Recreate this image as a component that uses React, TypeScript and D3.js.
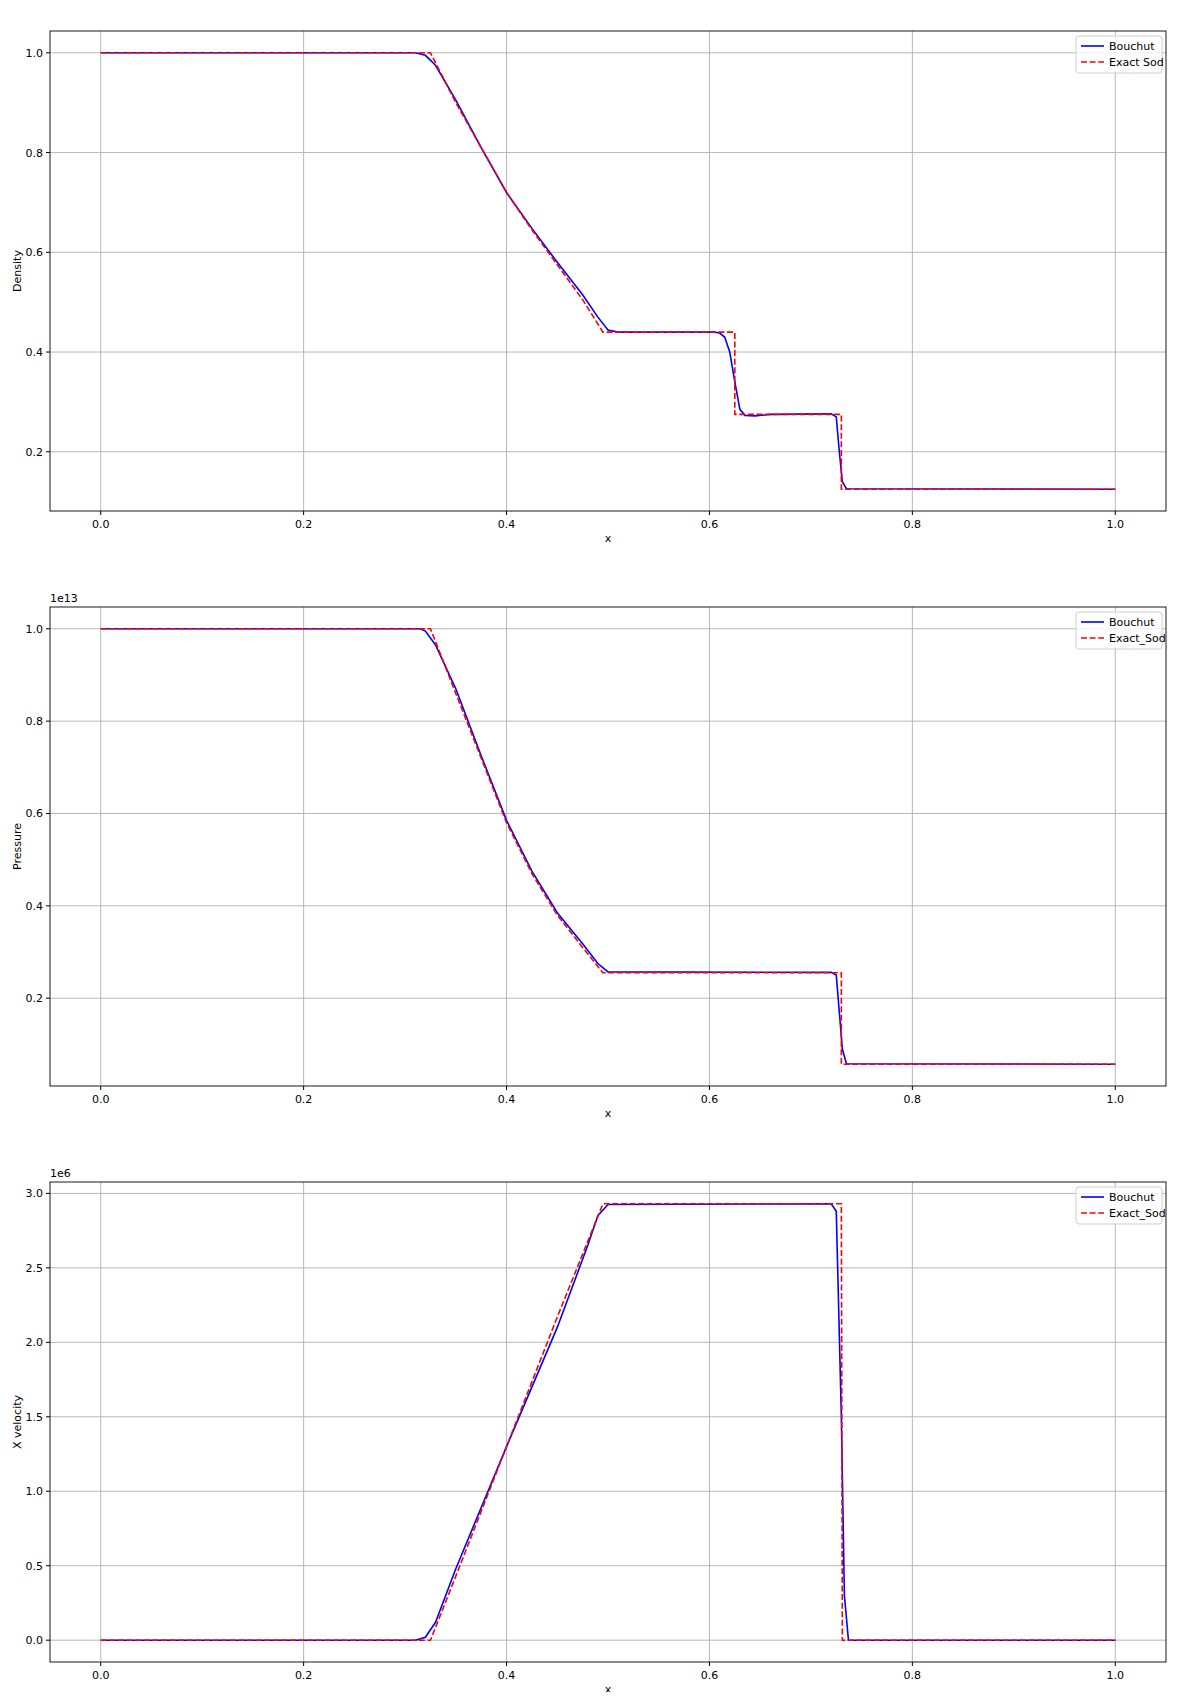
import * as d3 from 'd3'

// x positions shared by exact Sod solution
const exactX = [0, 0.325, 0.35, 0.375, 0.4, 0.425, 0.45, 0.475, 0.495, 0.625, 0.625, 0.73, 0.73, 1.0]
const exactDensity = [1, 1, 0.9, 0.81, 0.72, 0.645, 0.575, 0.505, 0.44, 0.44, 0.275, 0.275, 0.125, 0.125]

const bouchutDensityX = [0, 0.31, 0.32, 0.33, 0.35, 0.375, 0.4, 0.425, 0.45, 0.475, 0.49, 0.5, 0.51, 0.605, 0.61, 0.615, 0.62, 0.625, 0.63, 0.635, 0.645, 0.66, 0.72, 0.725, 0.728, 0.731, 0.735, 1.0]
const bouchutDensity = [1, 1, 0.995, 0.975, 0.905, 0.81, 0.72, 0.648, 0.58, 0.515, 0.47, 0.444, 0.44, 0.44, 0.438, 0.43, 0.40, 0.34, 0.285, 0.273, 0.272, 0.275, 0.276, 0.27, 0.2, 0.14, 0.126, 0.125]

const exactPressureX = [0, 0.325, 0.35, 0.375, 0.4, 0.425, 0.45, 0.475, 0.495, 0.73, 0.73, 1.0]
const exactPressure = [1, 1, 0.86, 0.72, 0.58, 0.47, 0.38, 0.31, 0.255, 0.255, 0.057, 0.057]

const bouchutPressureX = [0, 0.315, 0.32, 0.33, 0.35, 0.375, 0.4, 0.425, 0.45, 0.475, 0.49, 0.5, 0.72, 0.725, 0.728, 0.731, 0.735, 1.0]
const bouchutPressure = [1, 1, 0.995, 0.965, 0.87, 0.725, 0.585, 0.475, 0.385, 0.318, 0.275, 0.257, 0.256, 0.25, 0.17, 0.09, 0.058, 0.057]

const exactVelocityX = [0, 0.325, 0.35, 0.4, 0.45, 0.495, 0.73, 0.731, 1.0]
const exactVelocity = [0, 0, 0.43, 1.3, 2.17, 2.93, 2.93, 0, 0]

const bouchutVelocityX = [0, 0.31, 0.32, 0.33, 0.35, 0.4, 0.45, 0.48, 0.49, 0.5, 0.72, 0.725, 0.73, 0.733, 0.737, 1.0]
const bouchutVelocity = [0, 0, 0.02, 0.12, 0.48, 1.3, 2.1, 2.65, 2.85, 2.925, 2.93, 2.88, 1.5, 0.3, 0, 0]

const xTicks = [0, 0.2, 0.4, 0.6, 0.8, 1.0]

const panels = [
  { ylabel: 'Density', exp: '', exactName: 'Exact Sod', ex: exactX, ey: exactDensity, bx: bouchutDensityX, by: bouchutDensity, yTicks: [0.2, 0.4, 0.6, 0.8, 1.0], top: 31, bottom: 511 },
  { ylabel: 'Pressure', exp: '1e13', exactName: 'Exact_Sod', ex: exactPressureX, ey: exactPressure, bx: bouchutPressureX, by: bouchutPressure, yTicks: [0.2, 0.4, 0.6, 0.8, 1.0], top: 607, bottom: 1086 },
  { ylabel: 'X velocity', exp: '1e6', exactName: 'Exact_Sod', ex: exactVelocityX, ey: exactVelocity, bx: bouchutVelocityX, by: bouchutVelocity, yTicks: [0, 0.5, 1, 1.5, 2, 2.5, 3], top: 1182, bottom: 1662 },
]

const left = 50
const right = 1166
const font = 'DejaVu Sans, sans-serif'

function Panel({ p }: { p: typeof panels[number] }) {
  const x = d3.scaleLinear().domain([-0.05, 1.05]).range([left, right])
  const all = [...p.ey, ...p.by]
  const lo = d3.min(all)!, hi = d3.max(all)!
  const m = (hi - lo) * 0.05
  const y = d3.scaleLinear().domain([lo - m, hi + m]).range([p.bottom, p.top])
  const line = (xs: number[], ys: number[]) =>
    d3.line<number>().x((_, i) => x(xs[i])).y(d => y(d))(ys) || ''
  const clipId = `clip-${p.ylabel.replace(' ', '')}`
  return (
    <g fontFamily={font} fontSize={11} fill="#000">
      <defs>
        <clipPath id={clipId}><rect x={left} y={p.top} width={right - left} height={p.bottom - p.top} /></clipPath>
      </defs>
      {xTicks.map(t => (
        <g key={'x' + t}>
          <line x1={x(t)} x2={x(t)} y1={p.top} y2={p.bottom} stroke="#b0b0b0" strokeWidth={0.9} />
          <line x1={x(t)} x2={x(t)} y1={p.bottom} y2={p.bottom + 4} stroke="#000" />
          <text x={x(t)} y={p.bottom + 17} textAnchor="middle">{t.toFixed(1)}</text>
        </g>
      ))}
      {p.yTicks.map(t => (
        <g key={'y' + t}>
          <line x1={left} x2={right} y1={y(t)} y2={y(t)} stroke="#b0b0b0" strokeWidth={0.9} />
          <line x1={left - 4} x2={left} y1={y(t)} y2={y(t)} stroke="#000" />
          <text x={left - 7} y={y(t) + 4} textAnchor="end">{t.toFixed(1)}</text>
        </g>
      ))}
      <g clipPath={`url(#${clipId})`}>
        <path d={line(p.bx, p.by)} fill="none" stroke="blue" strokeWidth={1.6} />
        <path d={line(p.ex, p.ey)} fill="none" stroke="red" strokeWidth={1.6} strokeDasharray="6,2.6" />
      </g>
      <rect x={left} y={p.top} width={right - left} height={p.bottom - p.top} fill="none" stroke="#000" strokeWidth={0.9} />
      {p.exp && <text x={left} y={p.top - 5}>{p.exp}</text>}
      <text x={(left + right) / 2} y={p.bottom + 31} textAnchor="middle">x</text>
      <text transform={`translate(21,${(p.top + p.bottom) / 2}) rotate(-90)`} textAnchor="middle">{p.ylabel}</text>
      <g transform={`translate(${right - 90},${p.top + 5})`}>
        <rect x={0} y={0} width={86} height={37} rx={3} fill="#fff" fillOpacity={0.8} stroke="#d0d0d0" />
        <line x1={5} x2={28} y1={10} y2={10} stroke="blue" strokeWidth={1.6} />
        <line x1={5} x2={28} y1={26} y2={26} stroke="red" strokeWidth={1.6} strokeDasharray="6,2.6" />
        <text x={33} y={14}>Bouchut</text>
        <text x={33} y={30}>{p.exactName}</text>
      </g>
    </g>
  )
}

export default function App() {
  return (
    <svg width={1200} height={1700} style={{ display: 'block', margin: -8 }}>
      <rect width={1200} height={1700} fill="#fff" />
      {panels.map(p => <Panel key={p.ylabel} p={p} />)}
    </svg>
  )
}
